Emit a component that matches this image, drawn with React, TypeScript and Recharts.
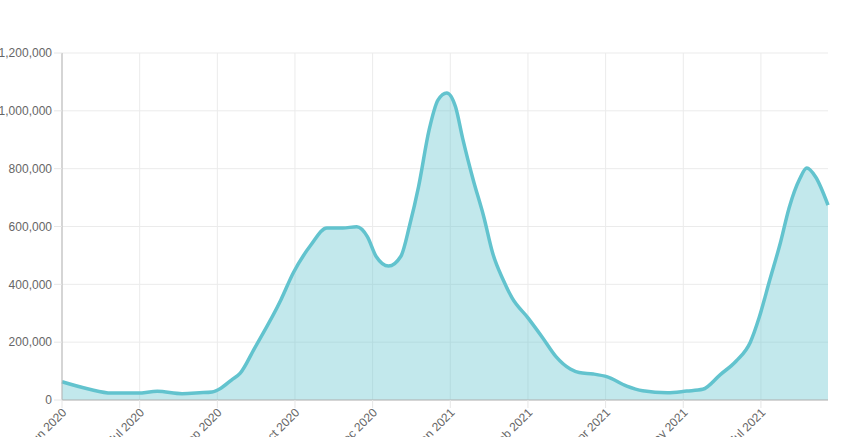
import React from "react";
import { AreaChart, Area, XAxis, YAxis, CartesianGrid } from "recharts";

// days since 8 Jun 2020
const days = [
  0, 15, 28, 43, 54, 68, 78, 85, 90, 96, 101, 109, 124, 131, 141, 150, 159,
  167, 173, 178, 185, 192, 197, 202, 208, 213, 218, 223, 227, 233, 239, 244,
  250, 255, 264, 272, 280, 288, 293, 301, 309, 320, 329, 343, 354, 363, 373,
  382, 390, 395, 401, 407, 412, 418, 422, 427, 434,
];

const cases = [
  63000, 38000, 24000, 24000, 30000, 22000, 25000, 28000, 41000, 69000, 93000,
  178000, 346000, 439000, 536000, 595000, 595000, 599000, 565000,
  496000, 463000, 497000, 605000, 737000, 934000, 1037000, 1062000, 1013000,
  905000, 761000, 633000, 508000, 415000, 353000, 284000, 218000, 149000,
  107000, 95000, 90000, 80000, 48000, 32000, 25000, 31000, 37000, 88000,
  135000, 200000, 285000, 415000, 543000, 665000, 765000,
  802000, 771000, 674000,
];

const tickDays = [0, 44, 88, 132, 176, 220, 264, 308, 352, 396];
const tickLabels = [
  "8 Jun 2020",
  "22 Jul 2020",
  "4 Sep 2020",
  "18 Oct 2020",
  "1 Dec 2020",
  "14 Jan 2021",
  "27 Feb 2021",
  "12 Apr 2021",
  "26 May 2021",
  "9 Jul 2021",
];

const yTicks = [0, 200000, 400000, 600000, 800000, 1000000, 1200000];

const data = days.map((d, i) => ({ day: d, cases: cases[i] }));

const font = "'Liberation Sans', Arial, sans-serif";

function DateTick(props: any) {
  const { x, y, payload } = props;
  const idx = tickDays.indexOf(payload.value);
  return (
    <text
      transform={`translate(${x + 3},${y + 1}) rotate(-45)`}
      textAnchor="end"
      dominantBaseline="middle"
      fill="#666"
      fontSize={12}
      fontFamily={font}
    >
      {idx >= 0 ? tickLabels[idx] : ""}
    </text>
  );
}

export default function App() {
  return (
    <div
      style={{
        position: "fixed",
        left: 0,
        top: 0,
        width: 841,
        height: 437,
        overflow: "hidden",
        background: "#fff",
      }}
    >
      <AreaChart
        width={841}
        height={437}
        data={data}
        margin={{ top: 53, right: 13, left: 0, bottom: 0 }}
      >
        <CartesianGrid stroke="#ebebeb" syncWithTicks />
        <XAxis
          dataKey="day"
          type="number"
          domain={[0, 434]}
          ticks={tickDays}
          height={37}
          tickSize={8}
          tickLine={{ stroke: "#e6e6e6" }}
          axisLine={{ stroke: "#b5b5b5" }}
          tick={<DateTick />}
          interval={0}
        />
        <YAxis
          type="number"
          domain={[0, 1200000]}
          ticks={yTicks}
          width={62}
          tickSize={8}
          tickMargin={2}
          tickLine={{ stroke: "#e6e6e6" }}
          axisLine={{ stroke: "#b5b5b5" }}
          tick={{ fill: "#666", fontSize: 12, fontFamily: font }}
          tickFormatter={(v: number) => v.toLocaleString("en-US")}
        />
        <Area
          type="monotone"
          dataKey="cases"
          stroke="#62c3ce"
          strokeWidth={3.5}
          fill="#62c3ce"
          fillOpacity={0.39}
          dot={false}
          activeDot={false}
          isAnimationActive={false}
        />
      </AreaChart>
    </div>
  );
}
